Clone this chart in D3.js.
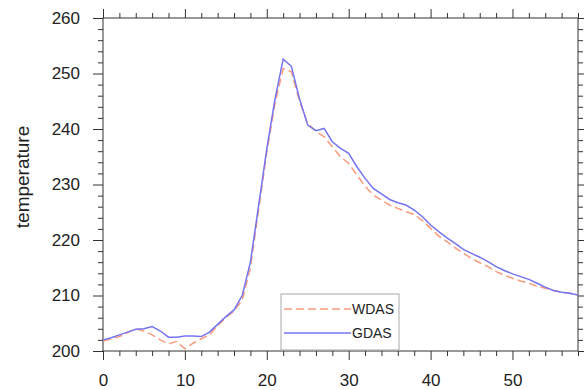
<!DOCTYPE html>
<html>
<head>
<meta charset="utf-8">
<script src="https://cdn.jsdelivr.net/npm/d3@7"></script>
<style>
  html, body { margin: 0; padding: 0; background: #fff; }
  svg { display: block; font-family: "Liberation Sans", Arial, Helvetica, sans-serif; }
</style>
</head>
<body>
<div id="chart"></div>
<script>
// level index along the x axis
const levels = d3.range(0, 59);

const wdas = [201.8, 202.2, 202.6, 203.3, 204.0, 203.6, 202.9, 202.0, 201.3, 201.7,
  200.4, 201.4, 202.2, 202.9, 204.6, 206.0, 207.2, 209.2, 215.0, 225.4,
  235.8, 244.6, 250.9, 250.3, 245.0, 241.0, 239.6, 238.6, 236.8, 235.0,
  233.8, 231.7, 229.7, 228.1, 227.2, 226.3, 225.7, 225.1, 224.6, 223.5,
  222.1, 220.7, 219.7, 218.6, 217.6, 216.7, 215.9, 215.2, 214.3, 213.7,
  213.1, 212.6, 212.2, 211.7, 211.3, 210.9, 210.6, 210.4, 210.1];

const gdas = [202.0, 202.4, 202.9, 203.4, 203.9, 204.0, 204.4, 203.6, 202.5, 202.5,
  202.7, 202.7, 202.6, 203.4, 204.8, 206.2, 207.4, 210.0, 216.0, 226.2,
  236.4, 245.4, 252.6, 251.3, 245.4, 240.7, 239.7, 240.1, 237.7, 236.5,
  235.6, 233.2, 231.1, 229.3, 228.3, 227.3, 226.7, 226.3, 225.4, 224.2,
  222.7, 221.5, 220.4, 219.4, 218.3, 217.6, 216.9, 216.1, 215.2, 214.5,
  213.9, 213.4, 212.9, 212.2, 211.5, 210.9, 210.6, 210.4, 210.1];

const xMajor = [0, 10, 20, 30, 40, 50];
const xMinor = [2, 4, 6, 8, 12, 14, 16, 18, 22, 24, 26, 28, 32, 34, 36, 38, 42, 44, 46, 48, 52, 54, 56, 58];
const yMajor = [200, 210, 220, 230, 240, 250, 260];
const yMinor = [202, 204, 206, 208, 212, 214, 216, 218, 222, 224, 226, 228, 232, 234, 236, 238, 242, 244, 246, 248, 252, 254, 256, 258];

const seriesNames = ["WDAS", "GDAS"];
const seriesColors = ["#fb9b7d", "#7474f2"];
const seriesDash = ["8,4", null];

const W = 584, H = 390;
const margin = { top: 18, right: 6, bottom: 39, left: 103 };
const width = W - margin.left - margin.right;
const height = H - margin.top - margin.bottom;

const svg = d3.select("#chart")
  .append("svg")
  .attr("width", W)
  .attr("height", H);

const g = svg.append("g")
  .attr("transform", "translate(" + margin.left + "," + margin.top + ")");

const x = d3.scaleLinear().domain([0, 58]).range([0, width]);
const y = d3.scaleLinear().domain([200, 260]).range([height, 0]);

// draw one set of ticks (major or minor) on a side
function ticks(axisFn, scale, values, size, labels, transform) {
  const a = axisFn(scale)
    .tickValues(values)
    .tickSize(size)
    .tickSizeOuter(0)
    .tickPadding(labels ? 14 : 0)
    .tickFormat(labels ? d3.format("d") : "");
  const el = g.append("g").attr("transform", transform).call(a);
  el.select(".domain").remove();
  el.selectAll("line").attr("stroke", "#333").attr("stroke-width", 1);
  el.selectAll("text")
    .attr("fill", "#222")
    .attr("font-size", 17)
    .attr("font-family", "Liberation Sans, Arial, sans-serif");
  return el;
}

ticks(d3.axisBottom, x, xMajor, 9, true, "translate(0," + height + ")");
ticks(d3.axisBottom, x, xMinor, 5, false, "translate(0," + height + ")");
ticks(d3.axisTop, x, xMajor, 9, false, "translate(0,0)");
ticks(d3.axisTop, x, xMinor, 5, false, "translate(0,0)");
ticks(d3.axisLeft, y, yMajor, 10, true, "translate(0,0)")
  .selectAll("text").attr("dx", 1);
ticks(d3.axisLeft, y, yMinor, 5, false, "translate(0,0)");
ticks(d3.axisRight, y, yMajor, 10, false, "translate(" + width + ",0)");
ticks(d3.axisRight, y, yMinor, 5, false, "translate(" + width + ",0)");

// frame
g.append("rect")
  .attr("x", 0).attr("y", 0)
  .attr("width", width).attr("height", height)
  .attr("fill", "none")
  .attr("stroke", "#333")
  .attr("stroke-width", 1);

// lines
const line = d3.line()
  .x((d, i) => x(levels[i]))
  .y(d => y(d));

[wdas, gdas].forEach((vals, k) => {
  g.append("path")
    .datum(vals)
    .attr("fill", "none")
    .attr("stroke", seriesColors[k])
    .attr("stroke-width", 1.5)
    .attr("stroke-dasharray", seriesDash[k])
    .attr("d", line);
});

// y label
svg.append("text")
  .attr("transform", "translate(29," + 177 + ") rotate(-90)")
  .attr("text-anchor", "middle")
  .attr("font-size", 19)
  .attr("fill", "#222")
  .text("temperature");

// legend
const legend = svg.append("g").attr("transform", "translate(281,294)");
legend.append("rect")
  .attr("x", 0).attr("y", 0)
  .attr("width", 118).attr("height", 56)
  .attr("fill", "#fff")
  .attr("stroke", "#aaa")
  .attr("stroke-width", 1);

seriesNames.forEach((name, k) => {
  const ly = 15 + k * 24;
  legend.append("line")
    .attr("x1", 3).attr("x2", 70)
    .attr("y1", ly).attr("y2", ly)
    .attr("stroke", seriesColors[k])
    .attr("stroke-width", 1.5)
    .attr("stroke-dasharray", seriesDash[k]);
  legend.append("text")
    .attr("x", 71).attr("y", ly)
    .attr("dy", "0.36em")
    .attr("font-size", 14)
    .attr("fill", "#222")
    .text(name);
});
</script>
</body>
</html>
